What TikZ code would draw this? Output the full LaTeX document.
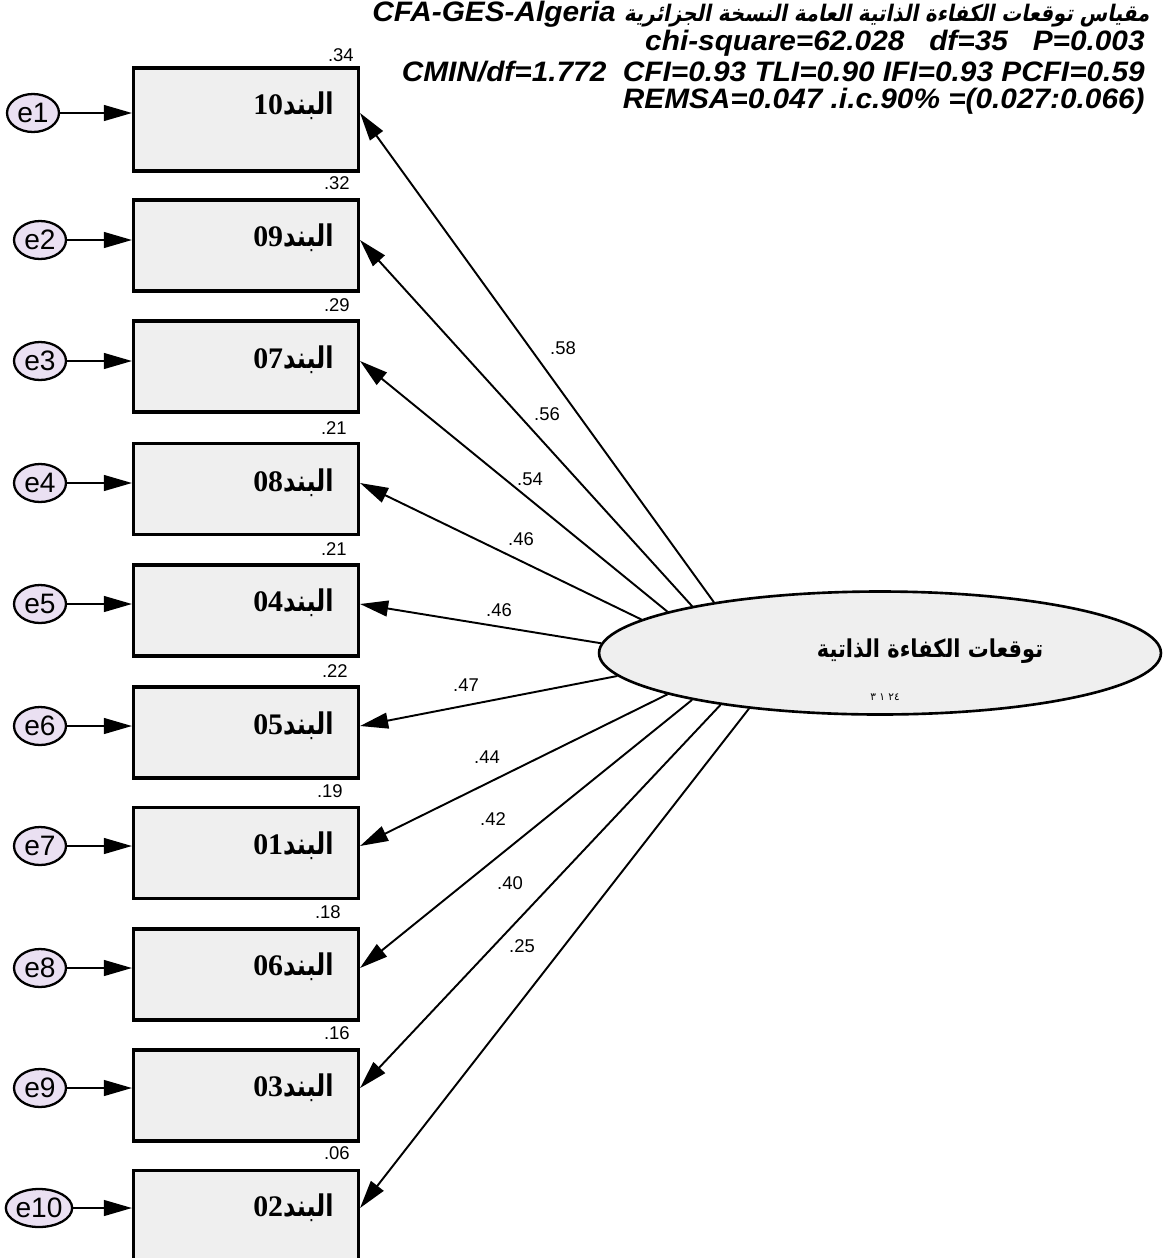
\documentclass[tikz,border=0pt]{standalone}
\usepackage{fontspec}
\setmainfont{Liberation Sans}
\newfontfamily\hdrfont[FakeStretch=1.06]{Liberation Sans}
\newfontfamily\serifnum{Liberation Serif}
\newfontfamily\arabicfont[Script=Arabic]{DejaVu Sans}
\newfontfamily\arabicitem[Script=Arabic,FakeStretch=0.8]{DejaVu Sans}
\newfontfamily\arabiclat[Script=Arabic,FakeStretch=0.85]{DejaVu Sans}
\newfontfamily\arabicslant[Script=Arabic,FakeSlant=0.2,FakeStretch=0.87]{DejaVu Sans}
\TeXXeTstate=1
\usetikzlibrary{arrows.meta,positioning,shapes.geometric}
\definecolor{boxgray}{HTML}{EFEFEF}
\definecolor{errlilac}{HTML}{EAE0F2}
\newcommand{\itemtext}[1]{{\serifnum\bfseries #1}{\arabicitem\bfseries\beginR البند\endR}}
\tikzset{
    itembox/.style={draw, line width=1.8pt, fill=boxgray, minimum width=4.5cm, minimum height=1.82cm, inner sep=0pt},
    errnode/.style={ellipse, draw, line width=1.3pt, fill=errlilac, minimum width=1.04cm, minimum height=0.76cm, inner sep=0pt, font=\fontsize{16}{16}\selectfont},
    latent/.style={ellipse, draw, line width=1.5pt, fill=boxgray, minimum width=11.24cm, minimum height=2.46cm},
    arr/.style={line width=1.1pt, -{Triangle[length=16pt,width=9pt]}},
    ld/.style={font=\fontsize{10.5}{12}\selectfont, inner sep=0pt},
    rsq/.style={font=\fontsize{10.5}{12}\selectfont, inner sep=0pt, anchor=east},
    itemlbl/.style={font=\fontsize{17}{20}\selectfont, inner sep=0pt, anchor=east},
    hdr/.style={font=\hdrfont\bfseries\itshape\fontsize{16}{18}\selectfont, inner sep=0pt, anchor=east}
}
\begin{document}
\begin{tikzpicture}[x=0.02cm,y=-0.02cm]
    \useasboundingbox (0,0) rectangle (1163,1258);
    % fit indices
    \node[hdr] (h1) at (1150,14) {CFA-GES-Algeria {\arabicslant\bfseries\upshape\fontsize{13}{16}\selectfont\beginR مقياس توقعات الكفاءة الذاتية العامة النسخة الجزائرية\endR}};
    \node[hdr] (h2) at (1145,43) {chi-square=62.028\ \ \ df=35\ \ \ P=0.003};
    \node[hdr] (h3) at (1145,72) {CMIN/df=1.772\ \ CFI=0.93 TLI=0.90 IFI=0.93 PCFI=0.59};
    \node[hdr] (h4) at (1145,101) {REMSA=0.047 .i.c.90\% =(0.027:0.066)};
    % items
    \node[itembox, minimum height=2.06cm] (i10) at (246,119.5) {};
    \node[itembox] (i09) at (246,245.5) {};
    \node[itembox] (i07) at (246,366.5) {};
    \node[itembox] (i08) at (246,489) {};
    \node[itembox] (i04) at (246,610.5) {};
    \node[itembox] (i05) at (246,732.5) {};
    \node[itembox] (i01) at (246,853) {};
    \node[itembox] (i06) at (246,974.5) {};
    \node[itembox] (i03) at (246,1095.5) {};
    \node[itembox] (i02) at (246,1216) {};
    \node[itemlbl] (t10) at (334,106) {\itemtext{10}};
    \node[itemlbl] (t09) at (334,238) {\itemtext{09}};
    \node[itemlbl] (t07) at (334,360) {\itemtext{07}};
    \node[itemlbl] (t08) at (334,483) {\itemtext{08}};
    \node[itemlbl] (t04) at (334,603) {\itemtext{04}};
    \node[itemlbl] (t05) at (334,726) {\itemtext{05}};
    \node[itemlbl] (t01) at (334,846) {\itemtext{01}};
    \node[itemlbl] (t06) at (334,967) {\itemtext{06}};
    \node[itemlbl] (t03) at (334,1088) {\itemtext{03}};
    \node[itemlbl] (t02) at (334,1208) {\itemtext{02}};
    % squared multiple correlations
    \node[rsq] (r10) at (354,55) {.34};
    \node[rsq] (r09) at (350,183) {.32};
    \node[rsq] (r07) at (350,305) {.29};
    \node[rsq] (r08) at (347,428) {.21};
    \node[rsq] (r04) at (347,549) {.21};
    \node[rsq] (r05) at (348,671) {.22};
    \node[rsq] (r01) at (343,791) {.19};
    \node[rsq] (r06) at (341,912) {.18};
    \node[rsq] (r03) at (350,1033) {.16};
    \node[rsq] (r02) at (350,1153) {.06};
    % errors
    \node[errnode] (e1) at (33,113) {e1};
    \node[errnode] (e2) at (40,240) {e2};
    \node[errnode] (e3) at (40,361) {e3};
    \node[errnode] (e4) at (40,483) {e4};
    \node[errnode] (e5) at (40,604) {e5};
    \node[errnode] (e6) at (40,726) {e6};
    \node[errnode] (e7) at (40,846) {e7};
    \node[errnode] (e8) at (40,968) {e8};
    \node[errnode] (e9) at (40,1088) {e9};
    \node[errnode] (e10) at (39,1208) {e10};
    \draw[arr] (e1) -- (e1 -| i10.west);
    \draw[arr] (e2) -- (e2 -| i09.west);
    \draw[arr] (e3) -- (e3 -| i07.west);
    \draw[arr] (e4) -- (e4 -| i08.west);
    \draw[arr] (e5) -- (e5 -| i04.west);
    \draw[arr] (e6) -- (e6 -| i05.west);
    \draw[arr] (e7) -- (e7 -| i01.west);
    \draw[arr] (e8) -- (e8 -| i06.west);
    \draw[arr] (e9) -- (e9 -| i03.west);
    \draw[arr] (e10) -- (e10 -| i02.west);
    % latent factor
    \node[latent] (lat) at (880,653) {};
    \node[font=\fontsize{14}{16}\selectfont] (latlbl) at (930,651) {\arabiclat\bfseries\beginR توقعات الكفاءة الذاتية\endR};
    \node[font=\fontsize{6}{7}\selectfont] (latmk) at (885,697) {\arabicfont\beginR ٢٤ ١ ٣\endR};
    \draw[arr] (lat.163) -- (i10.east |- e1);
    \draw[arr] (lat.166) -- (i09.east |- e2);
    \draw[arr] (lat.169.5) -- (i07.east |- e3);
    \draw[arr] (lat.172) -- (i08.east |- e4);
    \draw[arr] (lat.178) -- (i04.east |- e5);
    \draw[arr] (lat.185) -- (i05.east |- e6);
    \draw[arr] (lat.191) -- (i01.east |- e7);
    \draw[arr] (lat.194.5) -- (i06.east |- e8);
    \draw[arr] (lat.198) -- (i03.east |- e9);
    \draw[arr] (lat.203) -- (i02.east |- e10);
    % loadings
    \node[ld] (l10) at (563,348) {.58};
    \node[ld] (l09) at (547,414) {.56};
    \node[ld] (l07) at (530,479) {.54};
    \node[ld] (l08) at (521,539) {.46};
    \node[ld] (l04) at (499,610) {.46};
    \node[ld] (l05) at (466,685) {.47};
    \node[ld] (l01) at (487,757) {.44};
    \node[ld] (l06) at (493,819) {.42};
    \node[ld] (l03) at (510,883) {.40};
    \node[ld] (l02) at (522,946) {.25};
\end{tikzpicture}
\end{document}
